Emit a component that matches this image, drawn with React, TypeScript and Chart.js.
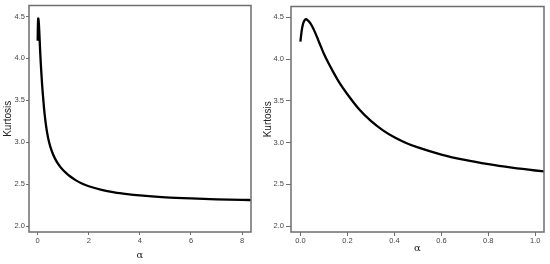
import React, { useEffect, useRef } from "react";
import { Chart, registerables } from "chart.js";

Chart.register(...registerables);

// alpha values (x) and kurtosis (y)
const alpha = [0, 0.005, 0.01, 0.015, 0.02, 0.025, 0.03, 0.04, 0.05, 0.06, 0.07, 0.08, 0.09, 0.1, 0.12, 0.14, 0.17, 0.2, 0.25, 0.3, 0.35, 0.4, 0.45, 0.5, 0.6, 0.7, 0.8, 0.9, 1.0, 1.1, 1.25, 1.5, 1.75, 2, 2.5, 3, 3.5, 4, 5, 6, 7, 8, 8.4];
const kurtosis = [4.21, 4.33, 4.41, 4.452, 4.473, 4.478, 4.468, 4.44, 4.395, 4.336, 4.27, 4.2, 4.132, 4.065, 3.95, 3.845, 3.7, 3.58, 3.4, 3.26, 3.15, 3.064, 2.996, 2.942, 2.857, 2.792, 2.741, 2.7, 2.666, 2.637, 2.597, 2.545, 2.505, 2.475, 2.432, 2.402, 2.381, 2.365, 2.343, 2.329, 2.319, 2.312, 2.31];

const yTicks = [2.0, 2.5, 3.0, 3.5, 4.0, 4.5];
const leftXTicks = [0, 2, 4, 6, 8];
const rightXTicks = [0, 0.2, 0.4, 0.6, 0.8, 1.0];

const yTitle = "Kurtosis";
const xTitle = "α";

const GRAY = "#6e6e6e";
const TXT = "#444444";

const boxPlugin = {
  id: "box",
  afterDraw(chart: any) {
    const { ctx, chartArea } = chart;
    ctx.save();
    ctx.strokeStyle = GRAY;
    ctx.lineWidth = 1.5;
    ctx.strokeRect(chartArea.left, chartArea.top, chartArea.right - chartArea.left, chartArea.bottom - chartArea.top);
    ctx.restore();
  },
};

type PanelProps = {
  left: number;
  width: number;
  xMin: number;
  xMax: number;
  xTicks: number[];
  xDigits: number;
  yAxisWidth: number;
  padRight: number;
  yTickLen: number;
  yTickPad: number;
  xTickLen: number;
  xTickPad: number;
  yTitlePad: number;
  xTitlePad: number;
};

function Panel(p: PanelProps) {
  const ref = useRef<HTMLCanvasElement | null>(null);
  useEffect(() => {
    if (!ref.current) return;
    const points = alpha.map((a, i) => ({ x: a, y: kurtosis[i] }));
    const chart = new Chart(ref.current, {
      type: "line",
      data: {
        datasets: [
          {
            data: points,
            borderColor: "#000000",
            borderWidth: 2.3,
            pointRadius: 0,
            cubicInterpolationMode: "monotone",
            fill: false,
          },
        ],
      },
      options: {
        animation: false,
        responsive: false,
        devicePixelRatio: 1,
        layout: { padding: { top: 5, right: p.padRight, bottom: 0, left: 0 } },
        plugins: { legend: { display: false }, tooltip: { enabled: false } },
        scales: {
          x: {
            type: "linear",
            min: p.xMin,
            max: p.xMax,
            afterBuildTicks: (s: any) => {
              s.ticks = p.xTicks.map((v) => ({ value: v }));
            },
            afterFit: (s: any) => {
              s.height = 32;
            },
            border: { display: false },
            grid: { drawOnChartArea: false, drawTicks: true, tickLength: p.xTickLen, color: GRAY, tickWidth: 1 },
            ticks: {
              autoSkip: false,
              maxRotation: 0,
              padding: p.xTickPad,
              color: TXT,
              font: { family: "Liberation Sans", size: 7.5 },
              callback: (v: any) => Number(v).toFixed(p.xDigits),
            },
            title: {
              display: true,
              text: xTitle,
              color: "#222",
              font: { family: "DejaVu Serif", size: 10 },
              padding: { top: 0, bottom: p.xTitlePad },
            },
          },
          y: {
            type: "linear",
            min: 1.929,
            max: 4.631,
            afterBuildTicks: (s: any) => {
              s.ticks = yTicks.map((v) => ({ value: v }));
            },
            afterFit: (s: any) => {
              s.width = p.yAxisWidth;
            },
            border: { display: false },
            grid: { drawOnChartArea: false, drawTicks: true, tickLength: p.yTickLen, color: GRAY, tickWidth: 1 },
            ticks: {
              autoSkip: false,
              padding: p.yTickPad,
              color: TXT,
              font: { family: "Liberation Sans", size: 7.5 },
              callback: (v: any) => Number(v).toFixed(1),
            },
            title: {
              display: true,
              text: yTitle,
              color: "#222",
              font: { family: "Liberation Sans", size: 10 },
              padding: { top: p.yTitlePad, bottom: 0 },
            },
          },
        },
      } as any,
      plugins: [boxPlugin],
    });
    return () => chart.destroy();
  }, []);
  return (
    <canvas
      ref={ref}
      width={p.width}
      height={264}
      style={{ position: "absolute", left: p.left, top: 0, width: p.width, height: 264 }}
    />
  );
}

export default function App() {
  return (
    <div style={{ position: "absolute", left: 0, top: 0, width: 550, height: 264, background: "#fff" }}>
      <Panel
        left={0}
        width={262}
        xMin={-0.34}
        xMax={8.35}
        xTicks={leftXTicks}
        xDigits={0}
        yAxisWidth={29}
        padRight={11}
        yTickLen={3}
        yTickPad={1}
        xTickLen={3}
        xTickPad={1}
        yTitlePad={2}
        xTitlePad={3}
      />
      <Panel
        left={262}
        width={288}
        xMin={-0.04}
        xMax={1.037}
        xTicks={rightXTicks}
        xDigits={1}
        yAxisWidth={29}
        padRight={6}
        yTickLen={5}
        yTickPad={2}
        xTickLen={4}
        xTickPad={0}
        yTitlePad={0}
        xTitlePad={10}
      />
    </div>
  );
}
